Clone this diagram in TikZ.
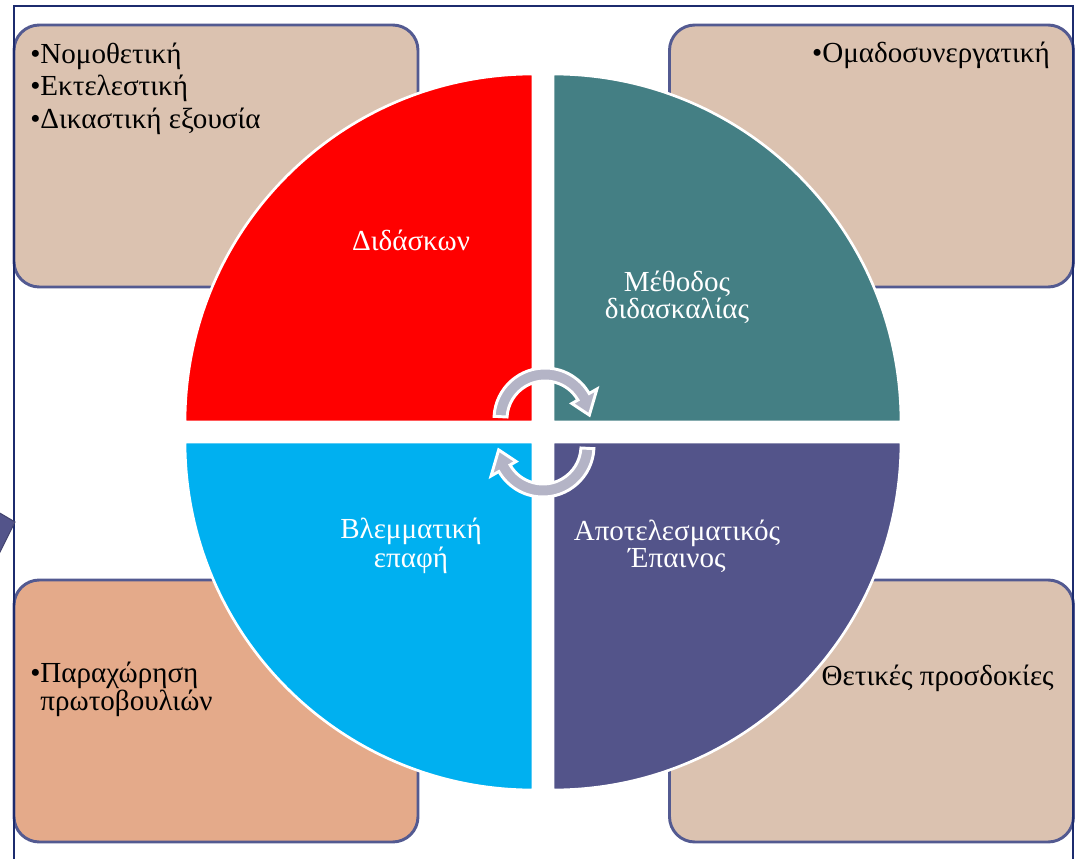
\documentclass[tikz,border=0pt]{standalone}
\usepackage{fontspec}
\setmainfont{Liberation Serif}
\definecolor{frameC}{HTML}{1C2B6E}
\definecolor{boxline}{HTML}{535A91}
\definecolor{boxfill}{HTML}{DBC2B0}
\definecolor{boxfillB}{HTML}{E4AA8A}
\definecolor{qred}{HTML}{FF0000}
\definecolor{qteal}{HTML}{447F84}
\definecolor{qblue}{HTML}{00B0F0}
\definecolor{qpurple}{HTML}{53548A}
\definecolor{arrowC}{HTML}{B4B4C6}
\begin{document}
\begin{tikzpicture}[x=0.75pt,y=-0.75pt,
  box/.style={draw=boxline, line width=2.2pt, rounded corners=19pt, minimum width=303pt, minimum height=196.5pt, inner sep=0pt},
  quad/.style={draw=white, line width=2pt},
  qtext/.style={text=white, font=\fontsize{21.8}{17.6}\selectfont, align=center, inner sep=0pt},
  btext/.style={text=black, font=\fontsize{21.8}{24.5}\selectfont, align=left, inner sep=0pt},
  cyc/.style={fill=arrowC, draw=white, line width=2.2pt, line join=miter}]
\useasboundingbox (0,0) rectangle (1078,859);
\clip (0,0) rectangle (1078,859);
\fill[white] (0,0) rectangle (1078,859);
% boxes
\node[box, fill=boxfill] (tl) at (216,156) {};
\node[box, fill=boxfill] (tr) at (871.5,156) {};
\node[box, fill=boxfillB] (bl) at (216,711) {};
\node[box, fill=boxfill] (br) at (871.5,711) {};
% outer frame
\draw[frameC, line width=1.6pt] (14,900) -- (14,6) -- (1073,6) -- (1073,900);
% left fragment
\filldraw[fill=qpurple, draw=qpurple!80!black, line width=0.8pt] (-2,512) -- (15,522) -- (-2,556) -- cycle;
% quadrants
\filldraw[quad, fill=qred] (533,422) -- (185,422) arc[start angle=180, end angle=270, radius=348] -- cycle;
\filldraw[quad, fill=qteal] (553,422) -- (553,74) arc[start angle=270, end angle=360, radius=348] -- cycle;
\filldraw[quad, fill=qblue] (533,442) -- (185,442) arc[start angle=180, end angle=90, radius=348] -- cycle;
\filldraw[quad, fill=qpurple] (553,442) -- (901,442) arc[start angle=0, end angle=90, radius=348] -- cycle;
% cycle arrows
\begin{scope}[shift={(545,419)}]
\filldraw[cyc] (183:51) arc[start angle=183, end angle=330, radius=51] -- (330:60) -- (355:44.5) -- (330:31) -- (330:38) arc[start angle=330, end angle=183, radius=38] -- cycle;
\end{scope}
\begin{scope}[shift={(543,446)}]
\filldraw[cyc] (3:51) arc[start angle=3, end angle=150, radius=51] -- (150:60) -- (175:44.5) -- (150:31) -- (150:38) arc[start angle=150, end angle=3, radius=38] -- cycle;
\end{scope}
% quadrant texts (base anchor = baseline of the last line)
\node[qtext, anchor=base] (t1) at (411,250.7) {Διδάσκων};
\node[qtext, anchor=base] (t2) at (677,318.5) {Μέθοδος\\διδασκαλίας};
\node[qtext, anchor=base] (t3) at (411,567) {Βλεμματική\\επαφή};
\node[qtext, anchor=base] (t4) at (677,567) {Αποτελεσματικός\\Έπαινος};
% box texts
\node[btext, anchor=base west] (b1) at (30,128.5) {•Νομοθετική\\•Εκτελεστική\\•Δικαστική εξουσία};
\node[btext, anchor=base east] (b2) at (1050,63) {•Ομαδοσυνεργατική};
\node[btext, anchor=base west, font=\fontsize{21.8}{18}\selectfont] (b3) at (30,710.7) {•Παραχώρηση\\\phantom{•}πρωτοβουλιών};
\node[btext, anchor=base east] (b4) at (1054,685) {Θετικές προσδοκίες};
\end{tikzpicture}
\end{document}
